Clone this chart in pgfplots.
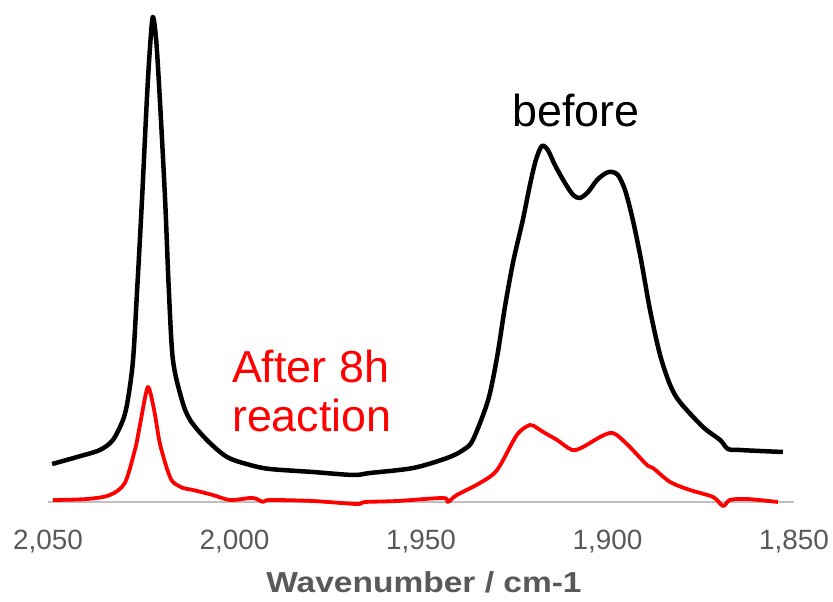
\documentclass[border=0pt]{standalone}
\usepackage{pgfplots}
\pgfplotsset{compat=1.18}
\usepackage{fontspec}
\setmainfont{Liberation Sans}
\definecolor{axisgray}{RGB}{191,191,191}
\definecolor{labelgray}{RGB}{89,89,89}
\definecolor{specred}{RGB}{255,0,0}

\begin{document}
\begin{tikzpicture}
\path (0,0) rectangle (833bp,602bp);
\begin{axis}[
  at={(48bp,100bp)}, anchor=south west,
  scale only axis, width=746bp, height=502bp,
  x dir=reverse, xmin=1850, xmax=2050, ymin=0, ymax=502,
  axis x line=bottom, axis y line=none,
  x axis line style={draw=axisgray, line width=2bp, -},
  xtick={1850,1900,1950,2000,2050},
  major tick length=0pt,
  scaled x ticks=false,
  /pgf/number format/assume math mode=true,
  /pgf/number format/1000 sep={,},
  xticklabel style={anchor=base, inner sep=0pt, yshift=-47bp,
    font=\fontsize{28}{32}\selectfont, text=labelgray},
  xlabel={Wavenumber / cm-1},
  xlabel style={at={(axis description cs:0.504,0)}, anchor=base, inner sep=0pt,
    yshift=-90bp, xscale=1.16, font=\bfseries\fontsize{29}{34}\selectfont, text=labelgray},
  clip=false,
]
% spectrum before reaction
\addplot[black, line width=4.5bp, smooth, line join=round] coordinates {
(2048.9,38) (2042.2,45) (2036.1,52) (2032.6,62) (2029.9,82) (2028.6,102)
(2027.2,142) (2026.1,212) (2024.8,302) (2023.5,402) (2022.7,452) (2021.9,485)
(2021.0,462) (2020.0,402) (2018.6,302) (2017.6,212) (2016.5,142) (2014.1,102)
(2011.9,82) (2007.4,62) (2002.0,45) (1995.8,37) (1990.5,33) (1979.0,30)
(1968.2,27) (1963.7,29) (1952.1,34) (1943.0,44) (1938.7,52) (1936.1,62)
(1932.0,102) (1929.6,145) (1927.5,195) (1925.3,240) (1922.7,282) (1920.8,317)
(1919.2,342) (1917.6,356) (1916.0,352) (1914.1,337) (1911.4,319) (1909.2,307)
(1907.4,304) (1905.2,310) (1902.8,322) (1900.4,329) (1898.8,330) (1897.2,327)
(1895.3,312) (1893.2,282) (1891.0,242) (1888.6,192) (1885.9,147) (1883.2,117)
(1880.6,100) (1874.4,75) (1869.8,62) (1867.7,53) (1864.5,52) (1859.1,51)
(1853.0,50)
};
% spectrum after 8 h of reaction
\addplot[specred, line width=3.8bp, smooth, line join=round] coordinates {
(2048.7,2) (2039.5,3) (2033.4,7) (2029.4,19) (2026.7,52) (2026.1,62)
(2025.1,82) (2024.0,104) (2023.2,115) (2022.4,107) (2021.3,87) (2020.2,62)
(2019.2,47) (2017.8,30) (2016.5,20) (2013.8,14) (2011.1,12) (2005.8,7)
(2001.2,2) (1995.8,4) (1994.0,3) (1992.4,0) (1990.5,2) (1979.0,1)
(1967.2,-2) (1965.0,0) (1956.4,1) (1944.1,4) (1942.8,0) (1940.4,7)
(1934.2,19) (1929.6,32) (1924.3,67) (1920.8,77) (1918.9,74) (1916.8,69)
(1913.5,62) (1909.5,52) (1906.6,55) (1902.0,65) (1899.3,69) (1897.5,67)
(1894.0,55) (1889.4,37) (1887.8,34) (1883.2,20) (1877.9,12) (1871.7,5)
(1869.0,-4) (1867.2,2) (1862.6,3) (1854.3,0)
};
\node[anchor=base west, inner sep=0pt, font=\fontsize{45}{54}\selectfont]
  at (axis cs:1925.6,375) {before};
\node[anchor=base west, inner sep=0pt, text=specred, font=\fontsize{45}{54}\selectfont]
  at (axis cs:2000.7,119) {After 8h};
\node[anchor=base west, inner sep=0pt, text=specred, font=\fontsize{45}{54}\selectfont]
  at (axis cs:2000.7,70) {reaction};
\end{axis}
\end{tikzpicture}
\end{document}
